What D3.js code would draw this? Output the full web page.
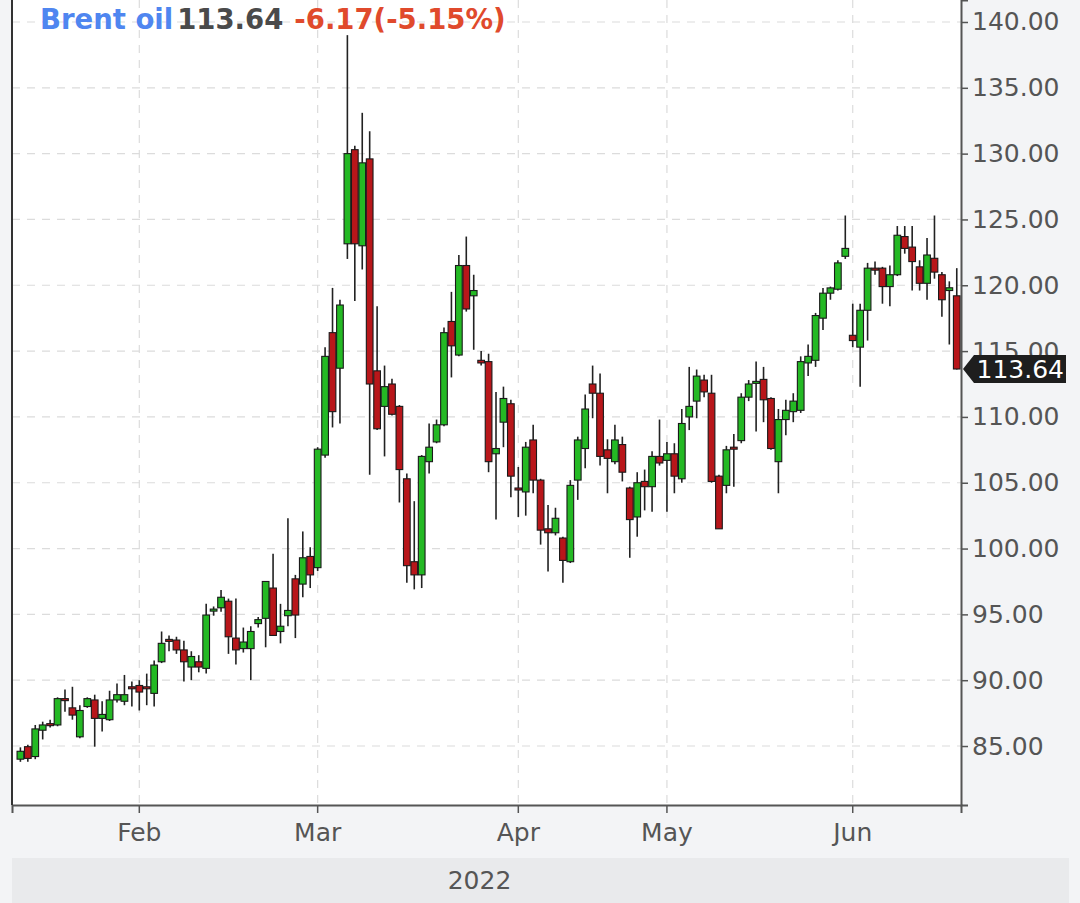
<!DOCTYPE html>
<html>
<head>
<meta charset="utf-8">
<script src="https://cdn.jsdelivr.net/npm/d3@7"></script>
<style>
  html, body { margin: 0; padding: 0; background: #f3f4f6; }
  svg { display: block; }
  text { font-family: "DejaVu Sans", sans-serif; }
</style>
</head>
<body>
<svg id="chart" width="1080" height="903"></svg>
<script>
// ---------------- data ----------------
const seriesName = "Brent oil";
const yearLabel = "2022";

const dates = [
  // Jan
  "2022-01-13","2022-01-14","2022-01-16","2022-01-17","2022-01-18","2022-01-19","2022-01-20","2022-01-21",
  "2022-01-23","2022-01-24","2022-01-25","2022-01-26","2022-01-27","2022-01-28","2022-01-30","2022-01-31",
  // Feb
  "2022-02-01","2022-02-02","2022-02-03","2022-02-04","2022-02-06","2022-02-07","2022-02-08","2022-02-09",
  "2022-02-10","2022-02-11","2022-02-13","2022-02-14","2022-02-15","2022-02-16","2022-02-17","2022-02-18",
  "2022-02-20","2022-02-21","2022-02-22","2022-02-23","2022-02-24","2022-02-25","2022-02-27","2022-02-28",
  // Mar
  "2022-03-01","2022-03-02","2022-03-03","2022-03-04","2022-03-06","2022-03-07","2022-03-08","2022-03-09",
  "2022-03-10","2022-03-11","2022-03-13","2022-03-14","2022-03-15","2022-03-16","2022-03-17","2022-03-18",
  "2022-03-20","2022-03-21","2022-03-22","2022-03-23","2022-03-24","2022-03-25","2022-03-27","2022-03-28",
  "2022-03-29","2022-03-30","2022-03-31",
  // Apr
  "2022-04-01","2022-04-04","2022-04-05","2022-04-06","2022-04-07","2022-04-08","2022-04-11","2022-04-12",
  "2022-04-13","2022-04-14","2022-04-18","2022-04-19","2022-04-20","2022-04-21","2022-04-22","2022-04-25",
  "2022-04-26","2022-04-27","2022-04-28","2022-04-29",
  // May
  "2022-05-01","2022-05-02","2022-05-03","2022-05-04","2022-05-05","2022-05-06","2022-05-08","2022-05-09",
  "2022-05-10","2022-05-11","2022-05-12","2022-05-13","2022-05-15","2022-05-16","2022-05-17","2022-05-18",
  "2022-05-19","2022-05-20","2022-05-22","2022-05-23","2022-05-24","2022-05-25","2022-05-26","2022-05-27",
  "2022-05-31",
  // Jun
  "2022-06-01","2022-06-02","2022-06-03","2022-06-05","2022-06-06","2022-06-07","2022-06-08","2022-06-09",
  "2022-06-10","2022-06-12","2022-06-13","2022-06-14","2022-06-15","2022-06-16","2022-06-17"
];

const open = [
  84.0, 84.95, 84.2, 86.2, 86.7, 86.6, 88.6, 87.9, 85.7, 88.0, 88.5, 87.1, 87.0, 88.5, 88.4, 89.5,
  89.6, 89.5, 89.0, 91.4, 93.1, 93.05, 92.3, 91.0, 91.4, 90.9, 95.3, 95.5, 96.0, 93.2, 92.4, 92.4,
  94.3, 94.7, 97.0, 93.7, 94.9, 97.7, 97.3, 99.4,
  98.55, 107.1, 116.4, 113.7, 123.15, 130.3, 123.0, 129.6, 113.5, 110.8, 112.5, 110.8, 105.3, 99.0,
  98.0, 106.6, 108.1, 109.4, 117.25, 114.7, 121.5, 119.2, 114.3, 114.2, 107.2, 109.6, 111.0,
  104.6, 104.3, 108.25, 105.2, 101.5, 101.2, 100.8, 99.0, 105.2, 107.6, 112.5, 111.8, 107.5, 106.6,
  107.9, 104.6, 102.4, 105.1, 104.7, 107.0,
  106.7, 107.2, 105.3, 110.0, 111.2, 112.8, 111.8, 105.5, 104.8, 107.7, 108.2, 111.5, 112.6, 112.85,
  111.4, 106.6, 109.8, 110.4, 110.5, 114.1, 114.3, 117.5, 119.4, 119.7, 122.2,
  116.2, 115.3, 118.1, 121.3, 121.3, 119.9, 120.8, 123.7, 122.9, 121.4, 120.15, 122.05, 120.8, 119.6, 119.2
];
const high = [
  84.9, 85.1, 86.6, 86.85, 87.0, 88.7, 89.3, 89.5, 88.1, 88.7, 88.9, 88.4, 89.2, 89.75, 90.4, 89.9,
  90.0, 90.5, 91.5, 93.7, 93.4, 93.3, 93.0, 92.2, 91.9, 95.8, 95.6, 96.85, 96.2, 96.2, 94.0, 94.1,
  94.8, 97.5, 99.6, 95.8, 102.3, 98.0, 101.3, 100.1,
  107.7, 115.3, 119.8, 118.9, 139.0, 130.6, 133.1, 131.7, 118.4, 113.9, 112.9, 110.9, 105.7, 103.6,
  107.1, 109.5, 109.8, 116.8, 119.5, 122.3, 123.7, 120.8, 115.0, 114.8, 111.9, 112.3, 111.3,
  106.2, 108.1, 109.4, 105.3, 103.3, 103.1, 100.9, 105.2, 108.5, 111.7, 113.9, 113.3, 108.3, 109.4,
  108.5, 104.7, 105.8, 106.0, 107.4, 109.8,
  108.1, 108.0, 110.6, 113.8, 113.6, 113.2, 113.2, 105.6, 107.8, 108.7, 111.8, 112.8, 114.2, 113.8,
  111.5, 110.6, 111.3, 111.8, 114.6, 115.5, 117.9, 119.8, 119.9, 121.9, 125.3,
  118.6, 118.6, 121.7, 121.8, 121.4, 121.5, 124.5, 124.5, 124.5, 121.9, 123.6, 125.3, 121.0, 120.3, 121.3
];
const low = [
  83.8, 83.8, 84.0, 85.5, 86.4, 86.5, 87.6, 87.0, 85.6, 87.9, 84.95, 86.1, 86.9, 88.3, 88.1, 88.0,
  87.7, 88.1, 88.0, 91.3, 92.2, 92.0, 89.9, 90.0, 90.6, 90.5, 94.9, 95.2, 92.0, 91.2, 92.1, 90.0,
  94.0, 92.5, 93.4, 92.8, 94.1, 93.2, 96.3, 97.0,
  98.3, 106.9, 109.2, 109.5, 122.0, 118.8, 121.2, 105.6, 109.0, 107.0, 110.1, 103.5, 97.4, 96.9,
  97.0, 105.7, 108.0, 109.3, 113.0, 114.6, 118.0, 115.1, 113.9, 105.8, 102.2, 107.7, 103.9,
  102.4, 102.5, 104.2, 100.3, 98.25, 101.0, 97.4, 98.9, 103.7, 106.1, 109.9, 106.3, 104.2, 106.4,
  105.1, 99.3, 100.9, 102.9, 102.8, 106.3,
  102.8, 104.2, 105.0, 109.0, 109.9, 111.5, 105.0, 101.5, 104.2, 104.7, 108.0, 111.2, 108.9, 109.6,
  107.5, 104.2, 108.6, 109.6, 110.3, 113.1, 113.8, 116.6, 118.9, 119.6, 122.0,
  115.3, 112.3, 115.8, 120.8, 118.6, 118.4, 120.7, 122.4, 119.6, 119.6, 118.9, 120.5, 117.6, 115.5, 113.6
];
const close = [
  84.6, 84.06, 86.3, 86.6, 86.6, 88.6, 88.5, 87.35, 87.7, 88.6, 87.1, 87.4, 88.5, 88.9, 88.9, 89.4,
  89.1, 89.45, 91.15, 92.8, 93.0, 92.3, 91.4, 91.8, 91.0, 94.95, 95.4, 96.3, 93.3, 92.3, 92.9, 93.7,
  94.6, 97.5, 93.4, 94.1, 95.3, 94.95, 99.3, 98.0,
  107.55, 114.6, 110.4, 118.5, 130.0, 123.15, 129.3, 112.5, 109.1, 112.3, 110.2, 106.0, 98.7, 98.0,
  107.0, 107.7, 109.4, 116.4, 115.4, 121.5, 118.2, 119.6, 114.1, 106.6, 107.6, 111.4, 105.5,
  104.5, 107.7, 105.2, 101.4, 101.2, 102.3, 99.1, 104.8, 108.25, 110.6, 111.8, 107.0, 106.85, 108.25,
  105.8, 102.2, 105.0, 104.7, 107.0, 106.5,
  107.2, 105.5, 109.5, 110.8, 113.1, 111.9, 105.1, 101.5, 107.5, 107.6, 111.5, 112.5, 112.7, 111.3,
  107.6, 109.8, 110.5, 111.2, 114.2, 114.6, 117.7, 119.4, 119.8, 121.7, 122.8,
  115.8, 118.1, 121.3, 121.2, 119.9, 120.8, 123.8, 122.8, 121.8, 120.15, 122.3, 121.0, 118.9, 119.81, 113.64
];

const yTicks = [85, 90, 95, 100, 105, 110, 115, 120, 125, 130, 135, 140];
const monthLabels = ["Feb", "Mar", "Apr", "May", "Jun"];
const yDomain = [80.52, 141.67];

// ---------------- layout ----------------
const plot = { left: 12, right: 961, top: 0, bottom: 805 };
const colors = {
  up: "#24b924", down: "#b8161a", outline: "#1a1a1a", wick: "#222",
  grid: "#dcdcdc", axis: "#555", label: "#555",
  name: "#4f86f0", last: "#4a4a4a", change: "#e04a2c"
};

const data = dates.map((d, i) => ({ date: d, o: open[i], h: high[i], l: low[i], c: close[i] }));

const svg = d3.select("#chart");

const x = d3.scaleBand().domain(dates).range([plot.left, plot.right]).paddingInner(0.1).paddingOuter(0.4).align(0.85);
const y = d3.scaleLinear().domain(yDomain).range([plot.bottom, plot.top]);

// month tick positions: first date of each labelled month
const monthNum = ["02", "03", "04", "05", "06"];
const monthTicks = monthNum.map(m => dates.find(d => d.slice(5, 7) === m));
const tickLabel = new Map(monthTicks.map((d, i) => [d, monthLabels[i]]));
const cx = d => x(d) + x.bandwidth() / 2;

// plot background
svg.append("rect").attr("x", plot.left).attr("y", plot.top)
  .attr("width", plot.right - plot.left).attr("height", plot.bottom - plot.top).attr("fill", "#fff");

// grid
const grid = svg.append("g");
grid.selectAll("line.h").data(yTicks).join("line")
  .attr("x1", plot.left).attr("x2", plot.right)
  .attr("y1", d => y(d)).attr("y2", d => y(d))
  .attr("stroke", colors.grid).attr("stroke-width", 1.2).attr("stroke-dasharray", "8,7");
grid.selectAll("line.v").data(monthTicks).join("line")
  .attr("x1", d => cx(d)).attr("x2", d => cx(d))
  .attr("y1", plot.top).attr("y2", plot.bottom)
  .attr("stroke", colors.grid).attr("stroke-width", 1.2).attr("stroke-dasharray", "8,7");

// bottom band with year
svg.append("rect").attr("x", plot.left).attr("y", 858).attr("width", 1069 - plot.left).attr("height", 45)
  .attr("fill", "#e9eaec");
svg.append("text").attr("x", (plot.left + plot.right) / 2 - 7).attr("y", 889)
  .attr("text-anchor", "middle").attr("font-size", 25).attr("fill", colors.label).text(yearLabel);

// candles
const candles = svg.append("g");
candles.selectAll("line.wick").data(data).join("line")
  .attr("x1", d => cx(d.date)).attr("x2", d => cx(d.date))
  .attr("y1", d => y(d.h)).attr("y2", d => y(d.l))
  .attr("stroke", colors.wick).attr("stroke-width", 1.6);
candles.selectAll("rect.body").data(data).join("rect")
  .attr("x", d => x(d.date)).attr("width", x.bandwidth())
  .attr("y", d => y(Math.max(d.o, d.c)))
  .attr("height", d => Math.max(2, Math.abs(y(d.o) - y(d.c))))
  .attr("fill", d => d.c >= d.o ? colors.up : colors.down)
  .attr("stroke", colors.outline).attr("stroke-width", 1.1);

// axes
const yAxis = d3.axisRight(y).tickValues(yTicks).tickFormat(d3.format(".2f")).tickSize(7).tickPadding(4);
const gy = svg.append("g").attr("transform", `translate(${plot.right},0)`).call(yAxis);
gy.select(".domain").attr("stroke", colors.axis).attr("stroke-width", 2);
gy.selectAll(".tick line").attr("stroke", colors.axis).attr("stroke-width", 1.5);
gy.selectAll(".tick text").attr("font-size", 25).attr("fill", colors.label).attr("font-family", "DejaVu Sans");

const xAxis = d3.axisBottom(x).tickValues(monthTicks).tickFormat(d => tickLabel.get(d)).tickSize(8).tickPadding(10);
const gx = svg.append("g").attr("transform", `translate(0,${plot.bottom})`).call(xAxis);
gx.select(".domain").attr("stroke", colors.axis).attr("stroke-width", 2);
gx.selectAll(".tick line").attr("stroke", colors.axis).attr("stroke-width", 1.5);
gx.selectAll(".tick text").attr("font-size", 25).attr("fill", colors.label).attr("font-family", "DejaVu Sans");

// left border
svg.append("line").attr("x1", plot.left).attr("x2", plot.left).attr("y1", plot.top).attr("y2", plot.bottom)
  .attr("stroke", "#333").attr("stroke-width", 2);

// last price tag
const last = close[close.length - 1];
const prev = close[close.length - 2];
const ty = y(last);
const tag = svg.append("g");
tag.append("path")
  .attr("d", `M${plot.right + 2},${ty} L${plot.right + 13},${ty - 14} L1066,${ty - 14} L1066,${ty + 14} L${plot.right + 13},${ty + 14} Z`)
  .attr("fill", "#1e1e1e");
tag.append("text").attr("x", 1064).attr("y", ty + 9).attr("text-anchor", "end")
  .attr("font-size", 25).attr("fill", "#fff").text(last.toFixed(2));

// header
const chg = last - prev;
const pct = chg / prev * 100;
const header = svg.append("text").attr("x", 40).attr("y", 29).attr("font-size", 27.5).attr("font-weight", "bold");
header.append("tspan").attr("fill", colors.name).text(seriesName);
header.append("tspan").attr("fill", colors.last).attr("dx", 4).text(last.toFixed(2));
header.append("tspan").attr("fill", colors.change).attr("dx", 11).text(`${chg.toFixed(2)}(${pct.toFixed(2)}%)`);
</script>
</body>
</html>
